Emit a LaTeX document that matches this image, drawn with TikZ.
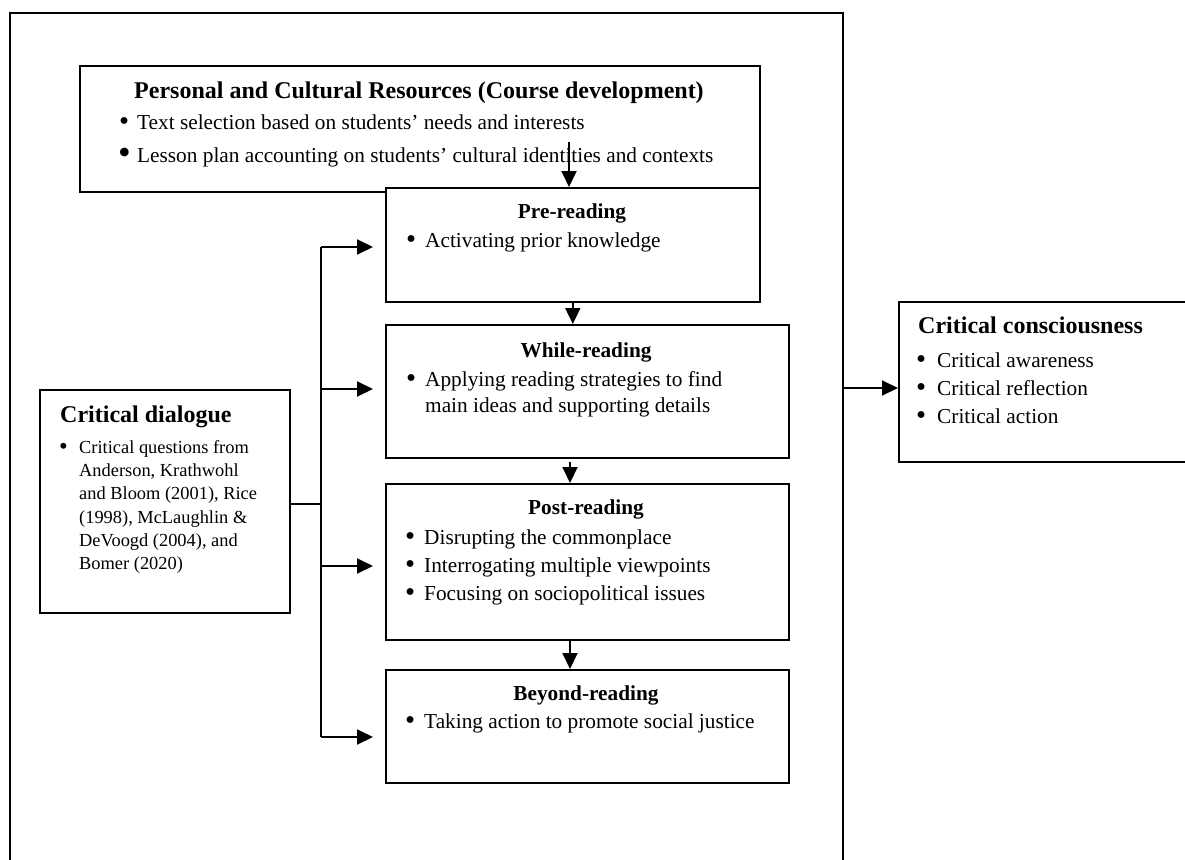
\documentclass[tikz,border=0pt]{standalone}
\usepackage{fontspec}
\setmainfont{Liberation Serif}
\usetikzlibrary{arrows.meta,calc}

% bullet drawn a little larger than the text face gives it
\newcommand\bigbullet{\raisebox{-0.07em}{\scalebox{1.35}{\textbullet}}}
\newcommand\bul[2][18pt]{\makebox[#1][l]{\bigbullet}#2}

\tikzset{
  box/.style={draw, line width=1.6pt, inner sep=0pt, anchor=north west},
  arr/.style={line width=1.9pt, -{Triangle[length=16pt,width=15pt]}},
  link/.style={line width=1.9pt},
  body/.style={anchor=base west, inner sep=0pt, font=\fontsize{21.3}{25}\selectfont},
  small/.style={anchor=base west, inner sep=0pt, font=\fontsize{18.4}{22}\selectfont},
  ttl/.style={anchor=base, inner sep=0pt, font=\bfseries\fontsize{21.3}{25}\selectfont},
  bigttl/.style={inner sep=0pt, font=\bfseries\fontsize{24}{28}\selectfont},
}

\begin{document}
\begin{tikzpicture}[x=1pt,y=-1pt]
\useasboundingbox (0,0) rectangle (1185,859);
\clip (0,0) rectangle (1185,859);
\fill[white] (0,0) rectangle (1185,859);

% outer frame around the reading stages
\draw[line width=1.6pt] (10,880) -- (10,13) -- (843,13) -- (843,880);

% course development box
\node[box, minimum width=680pt, minimum height=126pt] (pcr) at (79,65) {};
\node[bigttl, anchor=base] (pcrT) at (419,98) {Personal and Cultural Resources (Course development)};
\node[body] (pcr1) at (119,129) {\bul[18pt]{Text selection based on students’ needs and interests}};
\node[body] (pcr2) at (118,162) {\makebox[19pt][l]{\raisebox{-0.1em}{\scalebox{1.7}{\textbullet}}}Lesson plan accounting on students’ cultural identities and contexts};

% reading stages
\node[box, fill=white, minimum width=374pt, minimum height=114pt] (pre) at (385,187) {};
\node[ttl] (preT) at (572,218) {Pre-reading};
\node[body] (pre1) at (406,247) {\bul[19pt]{Activating prior knowledge}};

\node[box, minimum width=403pt, minimum height=133pt] (while) at (385,324) {};
\node[ttl] (whileT) at (586,357) {While-reading};
\node[body] (while1) at (406,386) {\bul[19pt]{Applying reading strategies to find}};
\node[body] (while2) at (425,412) {main ideas and supporting details};

\node[box, minimum width=403pt, minimum height=156pt] (post) at (385,483) {};
\node[ttl] (postT) at (586,514) {Post-reading};
\node[body] (post1) at (405,544) {\bul[19pt]{Disrupting the commonplace}};
\node[body] (post2) at (405,572) {\bul[19pt]{Interrogating multiple viewpoints}};
\node[body] (post3) at (405,600) {\bul[19pt]{Focusing on sociopolitical issues}};

\node[box, minimum width=403pt, minimum height=113pt] (beyond) at (385,669) {};
\node[ttl] (beyondT) at (586,700) {Beyond-reading};
\node[body] (beyond1) at (405,728) {\bul[19pt]{Taking action to promote social justice}};

% critical dialogue
\node[box, minimum width=250pt, minimum height=223pt] (cd) at (39,389) {};
\node[bigttl, anchor=base west] (cdT) at (60,422) {Critical dialogue};
\node[small] (cd1) at (59,453) {\bul[20pt]{Critical questions from}};
\node[small] (cd2) at (79,476) {Anderson, Krathwohl};
\node[small] (cd3) at (79,499) {and Bloom (2001), Rice};
\node[small] (cd4) at (79,523) {(1998), McLaughlin \&};
\node[small] (cd5) at (79,546) {DeVoogd (2004), and};
\node[small] (cd6) at (79,569) {Bomer (2020)};

% critical consciousness
\node[box, minimum width=320pt, minimum height=160pt] (cc) at (898,301) {};
\node[bigttl, anchor=base west] (ccT) at (918,333) {Critical consciousness};
\node[body] (cc1) at (916,367) {\bul[21pt]{Critical awareness}};
\node[body] (cc2) at (916,395) {\bul[21pt]{Critical reflection}};
\node[body] (cc3) at (916,423) {\bul[21pt]{Critical action}};

% stage-to-stage arrows
\coordinate (d0) at (569,142);
\coordinate (d2) at (570,462);
\coordinate (d3) at (570,639);
\draw[arr] (d0) -- (d0 |- pre.north);
\draw[arr] (pre.south) -- (pre.south |- while.north);
\draw[arr] (d2) -- (d2 |- post.north);
\draw[arr] (d3) -- (d3 |- beyond.north);

% dialogue feeding every stage
\coordinate (t1) at (321,247);
\coordinate (t2) at (321,389);
\coordinate (t3) at (321,566);
\coordinate (t4) at (321,737);
\draw[link] ($(cd.east)+(0,2.5)$) -- ($(cd.east -| t1)+(0,2.5)$);
\draw[link] (t1) -- (t4);
\draw[arr, shorten >=12pt] (t1) -- (t1 -| pre.west);
\draw[arr, shorten >=12pt] (t2) -- (t2 -| while.west);
\draw[arr, shorten >=12pt] (t3) -- (t3 -| post.west);
\draw[arr, shorten >=12pt] (t4) -- (t4 -| beyond.west);

% outcome arrow
\coordinate (fr) at (843,388);
\draw[arr] (fr) -- (fr -| cc.west);
\end{tikzpicture}
\end{document}
